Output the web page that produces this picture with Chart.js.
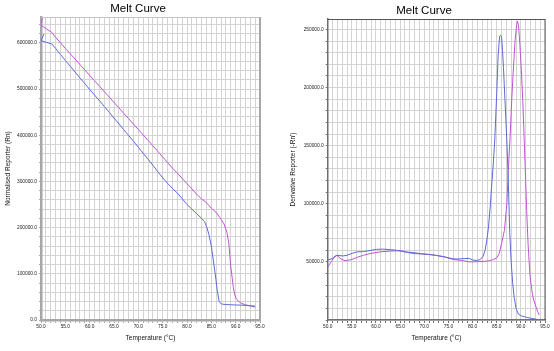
<!DOCTYPE html>
<html><head><meta charset="utf-8">
<script src="https://cdn.jsdelivr.net/npm/chart.js@4/dist/chart.umd.min.js"></script>
<style>
html,body{margin:0;padding:0;background:#fff;width:554px;height:351px;overflow:hidden;}
.wrap{position:absolute;top:0;width:277px;height:351px;}
.ttl{position:absolute;font-family:"Liberation Sans",Arial,sans-serif;font-size:11.5px;line-height:12px;color:#000;white-space:nowrap;transform:translateX(-50%);}
</style></head><body>
<div class="wrap" style="left:0"><canvas id="c1" width="277" height="351"></canvas></div>
<div class="wrap" style="left:277px"><canvas id="c2" width="277" height="351"></canvas></div>
<div class="ttl" style="left:138px;top:1.6px">Melt Curve</div>
<div class="ttl" style="left:424px;top:3.8px">Melt Curve</div>
<script>
// ---- tick labels ----
const xMajorTicks = [50, 55, 60, 65, 70, 75, 80, 85, 90, 95];
const meltYLabels = [0, 100000, 200000, 300000, 400000, 500000, 600000];
const derivYLabels = [50000, 100000, 150000, 200000, 250000];

// ---- Melt curve (Normalised Reporter) ----
const meltTempBlue = [50.6, 50.0, 51.0, 52.2, 53, 54, 55, 56, 57, 58, 59, 60, 61, 62, 63, 64, 65, 66, 67, 68, 69, 70, 71, 72, 73, 74, 75, 76, 77, 78, 79, 80, 81, 82, 83, 83.6, 84.1, 84.5, 85.0, 85.4, 85.8, 86.2, 86.6, 87.1, 88, 89, 90, 91, 92, 93, 94];
const meltRnBlue = [619000, 604800, 601500, 597700, 588000, 575000, 562000, 549500, 537000, 524000, 512000, 499000, 487000, 475000, 462500, 450000, 437000, 425000, 412000, 399500, 387000, 374000, 361000, 348000, 335000, 321000, 308000, 296000, 285000, 275000, 263000, 250000, 240000, 230000, 220000, 213000, 200000, 185000, 160000, 130000, 100000, 65000, 40000, 34600, 33500, 33000, 32600, 32200, 31600, 30800, 30200];
const meltTempPurple = [50.45, 50.0, 51, 52.2, 53, 54, 55, 56, 57, 58, 59, 60, 61, 62, 63, 64, 65, 66, 67, 68, 69, 70, 71, 72, 73, 74, 75, 76, 77, 78, 79, 80, 81, 82, 83, 84, 85, 86, 87, 87.6, 88.2, 88.6, 88.8, 89.0, 89.3, 89.5, 89.8, 90.1, 90.6, 91.2, 92, 93, 94];
const meltRnPurple = [662000, 638000, 631000, 622700, 612000, 600000, 588000, 576500, 565000, 553000, 541500, 529500, 518000, 506500, 494500, 483000, 471000, 459500, 447500, 436000, 424000, 412500, 400500, 389000, 377000, 365000, 353000, 341000, 329000, 318000, 307000, 295000, 284000, 272000, 262000, 254000, 242000, 233000, 218000, 208000, 190000, 165000, 140000, 115000, 90000, 72000, 55000, 46900, 40000, 36100, 33000, 30500, 28000];

// ---- Derivative curve (-Rn') ----
const derivTempBlue = [50.0, 51.0, 51.9, 53.2, 54.0, 55.3, 56.0, 57.4, 59.0, 60.1, 61.5, 63.0, 64.3, 66.0, 67.7, 69.5, 71.2, 72.5, 74.0, 75.0, 76.0, 77.0, 78.4, 79.3, 80.1, 81.0, 81.6, 82.2, 82.6, 83.0, 83.3, 83.7, 84.0, 84.3, 84.6, 85.0, 85.3, 85.6, 85.8, 86.0, 86.2, 86.4, 86.7, 87.1, 87.4, 87.7, 88.0, 88.3, 88.6, 89.0, 89.5, 90.2, 91.2, 92.2, 93.0, 94.0];
const derivBlue = [51500, 53000, 55700, 55100, 55700, 57700, 58600, 58800, 60000, 60800, 61000, 60500, 60000, 58500, 58000, 57000, 56300, 55500, 54500, 53500, 52600, 52500, 52900, 53000, 51500, 51300, 52000, 55000, 60000, 70000, 80000, 100000, 118000, 135000, 155000, 195000, 228000, 244000, 245000, 243500, 232000, 217000, 190000, 154000, 120000, 75000, 50000, 32000, 20000, 10000, 5000, 3400, 2300, 1400, 800, 0];
const derivTempPurple = [50.0, 50.7, 51.5, 52.0, 52.7, 53.6, 55.0, 56.0, 57.4, 58.8, 60.8, 63.0, 64.3, 65.5, 66.5, 67.7, 69.5, 71.2, 72.5, 74.0, 76.0, 77.5, 79.5, 81.0, 82.5, 83.3, 84.3, 85.0, 85.5, 86.0, 86.6, 87.1, 87.4, 87.8, 88.1, 88.5, 88.8, 89.1, 89.3, 89.5, 89.8, 90.1, 90.4, 90.7, 91.0, 91.2, 91.5, 91.9, 92.3, 92.6, 93.0, 93.5, 93.8];
const derivPurple = [45700, 50000, 55000, 55500, 52500, 51000, 52000, 53800, 55700, 57200, 58600, 59300, 59600, 59500, 58200, 57200, 56800, 56300, 55600, 54500, 52100, 51300, 50000, 50200, 50500, 50900, 52000, 53500, 57000, 65800, 77200, 100000, 128600, 160000, 188700, 220000, 240100, 253000, 257300, 254000, 237300, 215000, 188700, 155000, 120000, 94300, 65000, 38000, 25000, 18000, 13000, 7000, 4300];

const BLUE = 'rgb(95,105,215)';
const PURPLE = 'rgb(190,85,210)';
const FONT = '"Liberation Sans", Arial, sans-serif';
const GRID = '#d3d3d3';

function xy(t, v) { return t.map((x, i) => ({x: x, y: v[i]})); }

// tick positions every `step` from min up to max (gridline spacing)
function stepTicks(step) {
  return function (scale) {
    const out = [];
    for (let k = 0; scale.min + k * step <= scale.max + 1e-9; k++) {
      out.push({value: Math.round((scale.min + k * step) * 1000) / 1000});
    }
    scale.ticks = out;
  };
}

const frame = {
  id: 'frame',
  afterDraw(chart, args, o) {
    const {ctx, chartArea: a} = chart;
    ctx.save();
    ctx.strokeStyle = o.topColor; ctx.lineWidth = o.topWidth;
    ctx.beginPath(); ctx.moveTo(a.left, a.top + o.topWidth / 2); ctx.lineTo(a.right, a.top + o.topWidth / 2); ctx.stroke();
    ctx.strokeStyle = o.rightColor; ctx.lineWidth = o.rightWidth;
    ctx.beginPath(); ctx.moveTo(a.right, a.top); ctx.lineTo(a.right, a.bottom); ctx.stroke();
    ctx.restore();
  }
};

function ds(data, color) {
  return {data: data, borderColor: color, borderWidth: 1, pointRadius: 0, tension: 0, fill: false};
}

function build(id, cfg) {
  return new Chart(document.getElementById(id), {
    type: 'line',
    data: {datasets: [ds(xy(cfg.tb, cfg.vb), BLUE), ds(xy(cfg.tp, cfg.vp), PURPLE)]},
    options: {
      responsive: false,
      animation: false,
      devicePixelRatio: 1,
      layout: {padding: {left: 0, right: cfg.padRight, top: cfg.padTop, bottom: 0}},
      plugins: {
        legend: {display: false},
        tooltip: {enabled: false},
        title: {display: false},
        frame: cfg.frame
      },
      scales: {
        x: {
          type: 'linear', min: 50, max: 95,
          afterBuildTicks: stepTicks(1),
          ticks: {
            autoSkip: false, maxRotation: 0, padding: 1,
            color: '#222', font: {family: FONT, size: 4.8},
            callback: v => xMajorTicks.includes(v) ? v.toFixed(1) : ''
          },
          grid: {color: GRID, lineWidth: 1, tickLength: 3, tickColor: cfg.axisColor},
          border: {color: cfg.axisColor, width: cfg.axisWidth},
          title: {display: true, text: 'Temperature (°C)', color: '#111', font: {family: FONT, size: 6.5}, padding: {top: 0, bottom: 8.6}},
          afterFit: s => { s.height = 31; }
        },
        y: {
          type: 'linear', min: 0, max: cfg.ymax,
          afterBuildTicks: stepTicks(cfg.ystep),
          ticks: {
            autoSkip: false, padding: 2,
            color: '#222', font: {family: FONT, size: 4.8},
            callback: v => cfg.ylabels.includes(v) ? v.toFixed(1) : ''
          },
          grid: {color: GRID, lineWidth: 1, tickLength: 2, tickColor: cfg.axisColor},
          border: {color: cfg.axisColor, width: cfg.axisWidth},
          title: {display: true, text: cfg.ytitle, color: '#111', font: {family: FONT, size: 6.5}, padding: {top: cfg.ytitlePad, bottom: 0}},
          afterFit: s => { s.width = cfg.yw; }
        }
      }
    },
    plugins: [frame]
  });
}

build('c1', {
  tb: meltTempBlue, vb: meltRnBlue, tp: meltTempPurple, vp: meltRnPurple,
  padRight: 17, padTop: 17, yw: 41, ymax: 656000, ystep: 20000, ylabels: meltYLabels,
  ytitle: 'Normalised Reporter (Rn)', ytitlePad: 4.4,
  axisColor: '#a6a6a6', axisWidth: 2.5,
  frame: {topColor: '#c4c4c4', topWidth: 1, rightColor: '#a8a8a8', rightWidth: 2}
});

build('c2', {
  tb: derivTempBlue, vb: derivBlue, tp: derivTempPurple, vp: derivPurple,
  padRight: 9, padTop: 19, yw: 50.7, ymax: 259000, ystep: 10000, ylabels: derivYLabels,
  ytitle: "Derivative Reporter (-Rn')", ytitlePad: 12.1,
  axisColor: '#6e6e6e', axisWidth: 1.5,
  frame: {topColor: '#555', topWidth: 1, rightColor: '#555', rightWidth: 1}
});
</script>
</body></html>
